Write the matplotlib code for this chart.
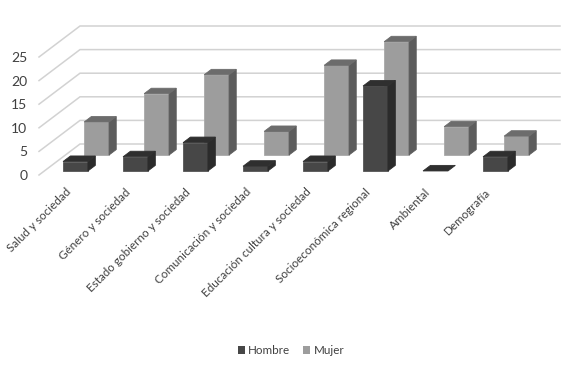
import matplotlib
matplotlib.use("Agg")
import matplotlib.pyplot as plt
from matplotlib.patches import Patch, Polygon

categories = ["Salud y sociedad", "Género y sociedad", "Estado gobierno y sociedad",
              "Comunicación y sociedad", "Educación cultura y sociedad",
              "Socioeconómica regional", "Ambiental", "Demografía"]
hombre = [2, 3, 6, 1, 2, 18, 0, 3]
mujer = [7, 13, 17, 5, 19, 24, 6, 4]
y_ticks = [0, 5, 10, 15, 20, 25]

W, H = 566, 366
plt.rcParams["font.family"] = ["Lato", "DejaVu Sans"]
fig = plt.figure(figsize=(W / 100, H / 100), dpi=100, facecolor="white")
L, R, B, T = 39, 560, 175, 57
ax = fig.add_axes([L / W, 1 - B / H, (R - L) / W, (B - T) / H])
ax.set_xlim(0, (R - L) / 60)
ax.set_ylim(0, 25)
for s in ax.spines.values():
    s.set_visible(False)
ax.patch.set_alpha(0)

PXX = 60.0
PXY = (B - T) / 25.0
DX, DY = 41.0, 31.0


def proj(x, v, d):
    return x + d * DX / PXX, v + d * DY / PXY


def poly(pts, color, z, edge=None):
    ax.add_patch(Polygon(pts, closed=True, facecolor=color, edgecolor=edge or color,
                         linewidth=0.6, zorder=z, clip_on=False))


def box(i, v, d0, d1, front, top, side, edge, z):
    x0, x1 = i + 0.312, i + 0.727
    if v > 0:
        poly([proj(x0, 0, d0), proj(x1, 0, d0), proj(x1, v, d0), proj(x0, v, d0)], front, z, edge)
        poly([proj(x1, 0, d0), proj(x1, 0, d1), proj(x1, v, d1), proj(x1, v, d0)], side, z)
    poly([proj(x0, v, d0), proj(x1, v, d0), proj(x1, v, d1), proj(x0, v, d1)], top, z)


for t in y_ticks:
    xa, ya = proj(0, t, 0)
    xb, yb = proj(0, t, 1)
    ax.plot([xa, xb, (R - L) / PXX], [ya, yb, yb], color="#d2d2d2", lw=1.1, zorder=1,
            clip_on=False, solid_joinstyle="miter")

for i, v in enumerate(mujer):
    box(i, v, 0.645, 0.82, "#9d9d9d", "#6c6c6c", "#5c5c5c", "#a8a8a8", 3)
for i, v in enumerate(hombre):
    box(i, v, 0.13, 0.31, "#474747", "#2f2f2f", "#2b2b2b", "#555555", 4)

ax.set_yticks(y_ticks)
ax.set_yticklabels([str(t) for t in y_ticks])
ax.set_xticks([i + 0.5 for i in range(len(categories))])
ax.set_xticklabels(categories, rotation=45, ha="right", va="center", rotation_mode="anchor")
ax.tick_params(axis="y", length=0, pad=8.5, labelsize=10, labelcolor="#404040")
ax.tick_params(axis="x", length=0, pad=11, labelsize=8.4, labelcolor="#404040")

handles = [Patch(facecolor="#474747", label="Hombre"), Patch(facecolor="#9d9d9d", label="Mujer")]
fig.legend(handles=handles, loc="center", bbox_to_anchor=(291 / W, 1 - 350.5 / H), ncol=2, frameon=False,
           fontsize=8.4, labelcolor="#404040", handlelength=0.6, handleheight=0.6,
           handletextpad=0.3, columnspacing=1.1)

fig.savefig("out.png", dpi=100)
